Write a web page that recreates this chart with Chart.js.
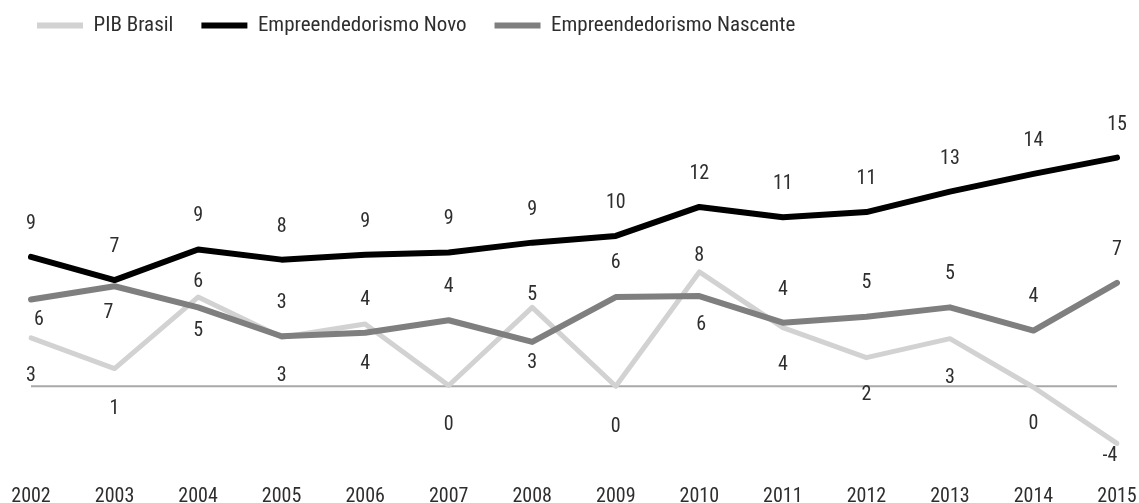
<!DOCTYPE html>
<html>
<head>
<meta charset="utf-8">
<script src="https://cdn.jsdelivr.net/npm/chart.js@4.4.1/dist/chart.umd.min.js"></script>
<style>
  html, body { margin: 0; padding: 0; background: #fff; }
  #wrap { width: 1139px; height: 503px; position: relative; }
</style>
</head>
<body>
<div id="wrap"><canvas id="chart"></canvas></div>
<script>
const anos = ['2002','2003','2004','2005','2006','2007','2008','2009','2010','2011','2012','2013','2014','2015'];
const pibBrasil = [3.38, 1.24, 6.24, 3.43, 4.36, 0.05, 5.52, 0, 8.0, 4.1, 2.0, 3.33, -0.07, -4.0];
const empNovo = [9.05, 7.43, 9.57, 8.86, 9.2, 9.36, 10.05, 10.52, 12.55, 11.83, 12.19, 13.62, 14.86, 16.0];
const empNascente = [6.07, 7.0, 5.52, 3.5, 3.74, 4.62, 3.1, 6.24, 6.31, 4.45, 4.86, 5.52, 3.9, 7.24];

// Rótulos impressos junto aos pontos
const rotPib = [3, 1, 6, 3, 4, 0, 5, 0, 8, 4, 2, 3, 0, -4];
const rotNovo = [9, 7, 9, 8, 9, 9, 9, 10, 12, 11, 11, 13, 14, 15];
const rotNascente = [6, 7, 5, 3, 4, 4, 3, 6, 6, 4, 5, 5, 4, 7];

// deslocamento [dx, dy] de cada rótulo em px
const posPib = [[0,38],[0,40],[0,-15],[0,39],[0,40],[0,39],[0,-12],[0,41],[0,-16],[0,37],[0,37],[0,39],[0,37],[-7,13]];
const posNovo = anos.map(() => [0, -33]);
const posNascente = [[8,20],[-6,27],[0,24],[0,-33],[0,-33],[0,-33],[0,21],[0,-34],[2,29],[0,-33],[0,-34],[0,-33],[0,-34],[0,-33]];

const FONTE = "'Roboto Condensed', 'Liberation Sans Narrow', 'DejaVu Sans Condensed', sans-serif";
const COR_TEXTO = '#2e2e2e';

Chart.defaults.font.family = FONTE;
Chart.defaults.color = COR_TEXTO;

// linha do zero
const linhaZero = {
  id: 'linhaZero',
  beforeDatasetsDraw(chart) {
    const { ctx, scales } = chart;
    const y = scales.y.getPixelForValue(0);
    const x0 = scales.x.getPixelForValue(0);
    const x1 = scales.x.getPixelForValue(anos.length - 1);
    ctx.save();
    ctx.strokeStyle = '#a8a8a8';
    ctx.lineWidth = 2;
    ctx.beginPath();
    ctx.moveTo(x0, y);
    ctx.lineTo(x1, y);
    ctx.stroke();
    ctx.restore();
  }
};

// rótulos de dados
const rotulos = {
  id: 'rotulos',
  afterDatasetsDraw(chart) {
    const { ctx } = chart;
    ctx.save();
    ctx.font = '20px ' + FONTE;
    ctx.fillStyle = COR_TEXTO;
    ctx.textAlign = 'center';
    ctx.textBaseline = 'middle';
    chart.data.datasets.forEach((ds, i) => {
      const meta = chart.getDatasetMeta(i);
      meta.data.forEach((p, j) => {
        const [dx, dy] = ds.pos[j];
        ctx.fillText(String(ds.rot[j]), p.x + dx, p.y + dy);
      });
    });
    ctx.restore();
  }
};

new Chart(document.getElementById('chart'), {
  type: 'line',
  data: {
    labels: anos,
    datasets: [
      { label: 'PIB Brasil', data: pibBrasil, rot: rotPib, pos: posPib, borderColor: '#d2d2d2', backgroundColor: '#d2d2d2', borderWidth: 5, order: 3 },
      { label: 'Empreendedorismo Novo', data: empNovo, rot: rotNovo, pos: posNovo, borderColor: '#000000', backgroundColor: '#000000', borderWidth: 6, order: 1 },
      { label: 'Empreendedorismo Nascente', data: empNascente, rot: rotNascente, pos: posNascente, borderColor: '#7f7f7f', backgroundColor: '#7f7f7f', borderWidth: 6, order: 2 },
    ],
  },
  options: {
    responsive: true,
    maintainAspectRatio: false,
    animation: false,
    layout: { padding: { left: 9, right: 22, top: -13, bottom: -6 } },
    elements: {
      point: { radius: 0, hoverRadius: 0 },
      line: { tension: 0, borderJoinStyle: 'round', borderCapStyle: 'round' },
    },
    plugins: {
      tooltip: { enabled: false },
      legend: {
        position: 'top',
        align: 'start',
        labels: {
          boxWidth: 46,
          boxHeight: 6,
          padding: 28,
          color: COR_TEXTO,
          font: { size: 21 },
          generateLabels(chart) {
            return Chart.defaults.plugins.legend.labels.generateLabels(chart)
              .map(l => ({ ...l, lineWidth: 0 }))
              .sort((a, b) => a.datasetIndex - b.datasetIndex);
          },
        },
      },
    },
    scales: {
      x: {
        grid: { display: false, drawTicks: false },
        border: { display: false },
        ticks: { color: COR_TEXTO, font: { size: 20 }, padding: 0, maxRotation: 0, autoSkip: false },
      },
      y: {
        min: -6.91,
        max: 23.81,
        grid: { display: false },
        border: { display: false },
        ticks: { display: false },
        afterFit(s) { s.width = 22; },
      },
    },
  },
  plugins: [linhaZero, rotulos],
});
</script>
</body>
</html>
